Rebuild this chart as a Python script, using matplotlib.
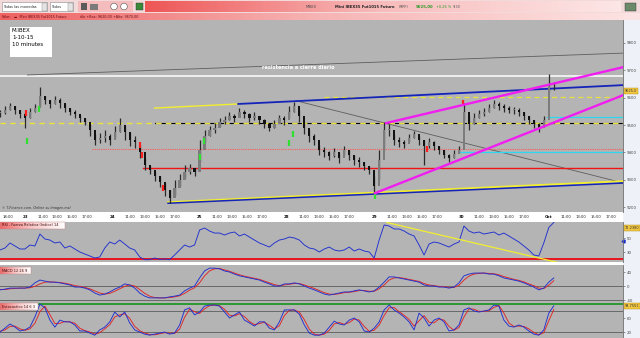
import numpy as np
import matplotlib
matplotlib.use("Agg")
import matplotlib.pyplot as plt
from matplotlib.patches import Rectangle, Circle
from matplotlib.colors import LinearSegmentedColormap
import matplotlib.transforms as mtransforms

W, H = 640, 338

# time axis: 10 minute bars, one session = 70 bars starting at 08:40
session_bars = 70
session_start_min = 8 * 60 + 40
sessions = ['23', '24', '25', '28', '29', '30', 'Oct']
hour_marks = [11, 13, 15, 17]
prev_session_hour = 18
first_bar = -20
last_bar = 479.5
bar_step = 4

# price, sampled every 4 bars
close = [9544, 9555, 9569, 9555, 9540, 9526, 9547, 9562, 9606, 9591,
         9577, 9591, 9580, 9562, 9547, 9540, 9526, 9511, 9482, 9445,
         9452, 9460, 9445, 9474, 9500, 9474, 9445, 9438, 9401, 9354,
         9335, 9313, 9291, 9262, 9233, 9269, 9299, 9328, 9343, 9328,
         9408, 9460, 9482, 9489, 9511, 9518, 9533, 9526, 9547, 9540,
         9526, 9533, 9518, 9504, 9489, 9504, 9526, 9518, 9547, 9569,
         9533, 9489, 9460, 9445, 9408, 9401, 9387, 9401, 9379, 9408,
         9390, 9372, 9365, 9350, 9335, 9277, 9372, 9482, 9482, 9445,
         9438, 9430, 9452, 9467, 9445, 9423, 9438, 9423, 9408, 9390,
         9379, 9394, 9408, 9547, 9504, 9526, 9540, 9547, 9562, 9577,
         9569, 9562, 9555, 9555, 9547, 9533, 9518, 9504, 9489, 9518,
         9642, 9642]
high = [9555, 9569, 9580, 9569, 9555, 9547, 9562, 9577, 9639, 9606,
        9591, 9606, 9599, 9577, 9562, 9555, 9537, 9526, 9504, 9467,
        9471, 9482, 9467, 9496, 9526, 9496, 9471, 9460, 9427, 9379,
        9350, 9328, 9313, 9288, 9262, 9299, 9321, 9354, 9357, 9343,
        9445, 9482, 9496, 9507, 9526, 9533, 9547, 9540, 9562, 9555,
        9544, 9547, 9533, 9522, 9504, 9518, 9537, 9533, 9569, 9584,
        9555, 9511, 9482, 9467, 9427, 9419, 9405, 9416, 9398, 9423,
        9408, 9390, 9383, 9365, 9350, 9313, 9408, 9511, 9504, 9467,
        9456, 9445, 9467, 9478, 9460, 9445, 9452, 9441, 9423, 9408,
        9394, 9408, 9423, 9580, 9533, 9544, 9555, 9562, 9577, 9591,
        9584, 9577, 9569, 9566, 9562, 9547, 9533, 9518, 9507, 9533,
        9686, 9657]
low = [9529, 9540, 9555, 9540, 9526, 9489, 9526, 9547, 9569, 9577,
       9562, 9577, 9562, 9547, 9537, 9526, 9511, 9500, 9460, 9427,
       9434, 9438, 9427, 9452, 9474, 9445, 9423, 9416, 9379, 9335,
       9321, 9295, 9273, 9240, 9214, 9244, 9277, 9306, 9321, 9313,
       9365, 9438, 9460, 9471, 9496, 9504, 9518, 9511, 9533, 9526,
       9511, 9518, 9504, 9489, 9478, 9489, 9511, 9500, 9526, 9547,
       9511, 9467, 9438, 9427, 9390, 9383, 9372, 9383, 9361, 9390,
       9372, 9354, 9346, 9335, 9321, 9251, 9299, 9408, 9460, 9427,
       9419, 9416, 9438, 9452, 9427, 9354, 9416, 9408, 9394, 9379,
       9365, 9379, 9398, 9518, 9482, 9504, 9526, 9533, 9547, 9562,
       9555, 9547, 9544, 9540, 9533, 9518, 9504, 9489, 9474, 9504,
       9620, 9628]

rsi = [32.9, 35.7, 42.9, 38.6, 34.3, 34.3, 40.0, 38.6, 55.7, 48.6,
       47.1, 42.9, 44.3, 35.7, 38.6, 34.3, 30.0, 27.1, 24.3, 21.4,
       22.9, 35.7, 44.3, 41.4, 47.1, 41.4, 35.7, 32.9, 22.9, 19.0,
       19.0, 21.4, 19.5, 20.0, 19.0, 25.7, 32.9, 40.0, 37.1, 40.0,
       61.4, 64.3, 60.0, 57.1, 57.1, 54.3, 57.1, 58.6, 52.9, 55.7,
       51.4, 47.1, 42.9, 40.0, 37.1, 42.9, 47.1, 48.6, 51.4, 50.0,
       47.1, 40.0, 35.7, 34.3, 30.0, 34.3, 37.1, 32.9, 31.4, 32.9,
       37.1, 31.4, 34.3, 31.4, 30.0, 21.4, 47.1, 68.6, 67.1, 62.9,
       62.9, 60.0, 55.7, 52.9, 40.0, 25.7, 41.4, 44.3, 42.9, 40.0,
       37.1, 41.4, 44.3, 67.1, 60.0, 57.1, 58.6, 55.7, 57.1, 58.6,
       54.3, 57.1, 52.9, 48.6, 44.3, 38.6, 32.9, 25.7, 24.3, 42.9,
       65.0, 72.2]
rsi_last = 72.2380

macd = [-11, -9, -6, -6, -6, -6, -3, 9, 17, 14,
        11, 11, 9, 6, 3, -3, -3, -6, -11, -20,
        -26, -23, -17, -9, -3, 6, 3, -6, -20, -29,
        -34, -34, -34, -34, -31, -29, -26, -14, -6, 0,
        23, 43, 51, 51, 49, 43, 40, 34, 29, 26,
        23, 20, 17, 11, 6, 0, 0, 6, 6, 9,
        6, 0, -6, -11, -17, -23, -26, -23, -20, -17,
        -17, -14, -11, -14, -17, -14, -3, 11, 26, 26,
        23, 20, 17, 14, 11, 3, 0, 0, -3, -3,
        -6, -3, 9, 29, 34, 37, 37, 37, 34, 34,
        29, 23, 20, 17, 14, 9, 3, -3, -11, -6,
        11, 23]
macd_signal = [-10, -10, -8, -7, -6, -6, -5, -1, 6, 11,
               12, 11, 10, 8, 5, 1, -1, -4, -8, -14,
               -20, -23, -21, -15, -8, -1, 3, 0, -10, -21,
               -29, -33, -34, -34, -33, -31, -28, -21, -12, -5,
               9, 29, 43, 49, 50, 46, 42, 37, 32, 28,
               25, 22, 19, 14, 9, 4, 1, 3, 5, 7,
               7, 3, -2, -7, -13, -19, -23, -24, -22, -19,
               -18, -16, -13, -13, -15, -15, -8, 3, 17, 23,
               24, 22, 19, 16, 13, 7, 3, 1, -1, -2,
               -4, -4, 2, 17, 28, 34, 36, 37, 36, 35,
               32, 27, 23, 19, 16, 12, 6, 1, -6, -7,
               2, 15]

stoch_k = [20, 31, 43, 34, 23, 26, 34, 63, 100, 89,
           54, 34, 54, 49, 49, 40, 23, 23, 17, 11,
           26, 34, 49, 77, 63, 77, 46, 26, 20, 14,
           11, 14, 17, 20, 14, 17, 40, 83, 89, 69,
           77, 94, 97, 97, 94, 77, 60, 69, 77, 54,
           46, 37, 49, 49, 31, 26, 49, 83, 83, 83,
           71, 40, 17, 11, 11, 17, 34, 51, 43, 40,
           54, 60, 49, 23, 20, 31, 49, 83, 97, 83,
           74, 63, 49, 26, 74, 60, 37, 54, 60, 49,
           23, 26, 40, 83, 89, 80, 77, 80, 83, 97,
           94, 54, 37, 34, 40, 34, 23, 14, 11, 26,
           74, 94.76]
stoch_d = [22, 26, 36, 37, 29, 25, 29, 45, 78, 94,
           70, 44, 45, 50, 49, 45, 31, 24, 20, 14,
           18, 29, 41, 63, 69, 72, 59, 36, 24, 17,
           13, 12, 15, 18, 17, 16, 28, 62, 85, 78,
           73, 86, 95, 97, 95, 85, 68, 66, 72, 64,
           50, 41, 44, 48, 39, 29, 38, 67, 82, 83,
           77, 55, 28, 14, 11, 14, 25, 43, 47, 42,
           47, 57, 54, 36, 22, 25, 40, 67, 89, 90,
           78, 68, 56, 37, 52, 67, 48, 46, 57, 54,
           36, 25, 33, 63, 86, 85, 79, 79, 81, 90,
           96, 74, 46, 36, 37, 36, 29, 19, 12, 18,
           52, 84]
stoch_last = 94.7551

# drawn studies on the price panel (bar, price)
grey_top = ([2, 480], [9683, 9763])
resistance = 9679
yellow_seg = ([104, 171], [9562, 9577])
blue_top = ([171, 480], [9577, 9646])
mid_level = 9507
mid_black_from = 104
upper_dash = ([240, 480], [9602, 9602])
red_dotted = ([54, 480], [9411, 9411])
red_solid = ([95, 480], [9343, 9343])
cyan_low = ([348, 480], [9401, 9401])
cyan_high = ([418.6, 480], [9529, 9529])
magenta_up = ([289.5, 480], [9507, 9712])
magenta_low = ([280.7, 480], [9251, 9610])
grey_diag = ([218, 480], [9588, 9288])
yellow_bottom = ([114.7, 480], [9218, 9295])
blue_bottom = ([114.7, 480], [9214, 9288])
red_marks = ([0.8, 92, 94, 111, 322, 351], [9544, 9427, 9390, 9269, 9412, 9580])
green_marks = ([1.6, 11, 140, 143.5, 212, 215, 281], [9441, 9558, 9383, 9441, 9434, 9467, 9240])
last_price = 9625.0

rsi_trend = ([290.3, 429], [72.1, 14.3])
rsi_level = 20

fig = plt.figure(figsize=(W / 100, H / 100), dpi=100)
fig.patch.set_facecolor('#eef2f8')


def px_axes(x0, y0, x1, y1, color, z=0):
    a = fig.add_axes([x0 / W, 1 - y1 / H, (x1 - x0) / W, (y1 - y0) / H], zorder=z)
    a.set_facecolor(color)
    return a


def blank(a):
    a.set_xticks([])
    a.set_yticks([])
    for s in a.spines.values():
        s.set_visible(False)


def style_panel(a, ylim, ticks):
    a.set_xlim(first_bar, last_bar)
    a.set_ylim(*ylim)
    for s in ['top', 'bottom', 'left']:
        a.spines[s].set_visible(False)
    a.spines['right'].set_color('#6a6a6a')
    a.spines['right'].set_linewidth(0.6)
    a.set_xticks([])
    a.yaxis.tick_right()
    a.set_yticks(ticks)
    a.set_yticklabels([f'{t:g}' for t in ticks])
    a.tick_params(axis='y', length=1.5, width=0.4, pad=1, labelsize=2.8,
                  colors='#444444')


def value_tag(a, y, text, coords='data'):
    if coords == 'data':
        tr = mtransforms.blended_transform_factory(a.transAxes, a.transData)
    else:
        tr = a.transAxes
    a.text(1.003, y, text, transform=tr, fontsize=2.5, va='center', ha='left',
           color='#333333', clip_on=False,
           bbox=dict(facecolor='#f1c640', edgecolor='#b08a10', lw=0.3, pad=0.5))


gray = '#b4b4b4'
blue = '#1f2fd0'
red = '#e02424'

# ---------------- price panel
ax = px_axes(0, 20, 623, 212, gray)
style_panel(ax, (9182, 9884), [9200, 9300, 9400, 9500, 9600, 9700, 9800])

ax.axhline(resistance, color='white', lw=1.1, zorder=2)
ax.plot(*grey_top, color='#5e5e5e', lw=0.6, zorder=2)
ax.plot(*grey_diag, color='#5e5e5e', lw=0.6, zorder=2)
ax.plot([mid_black_from, 480], [mid_level, mid_level], color='black', lw=0.8, zorder=2)
ax.axhline(mid_level, color='#e8e23a', lw=1.0, dashes=(4, 3), zorder=2)
ax.plot(*upper_dash, color='#e8e23a', lw=0.9, dashes=(4, 3), zorder=2)
ax.plot(*red_dotted, color='#ff5a5a', lw=0.8, dashes=(1, 1), zorder=2)
ax.plot(*red_solid, color='#f01414', lw=1.0, zorder=2)
ax.plot(*cyan_low, color='#2fd6f2', lw=0.9, zorder=2)
ax.plot(*cyan_high, color='#2fd6f2', lw=0.9, zorder=2)
ax.plot(*yellow_seg, color='#f2ee30', lw=1.0, zorder=2)
ax.plot(*blue_top, color='#1424b8', lw=1.3, zorder=2)
ax.plot(*yellow_bottom, color='#f2ee30', lw=1.3, zorder=2)
ax.plot(*blue_bottom, color='#1424b8', lw=1.1, zorder=2)

xs = first_bar + bar_step * np.arange(len(close))
opens = [close[0]] + close[:-1]
ax.vlines(xs, low, high, color='#2a2a2a', lw=0.9, zorder=3)
body_lo = np.minimum(opens, close)
body_h = np.maximum(np.abs(np.subtract(close, opens)), 2)
body_col = ['#7c7c7c' if c >= o else '#111111' for o, c in zip(opens, close)]
ax.bar(xs, body_h, bottom=body_lo, width=1.8, color=body_col, lw=0, zorder=3)

ax.plot(*red_marks, ls='none', marker='|', ms=4, mew=1.6, color='#ff2020', zorder=4)
ax.plot(*green_marks, ls='none', marker='|', ms=4, mew=1.6, color='#30e030', zorder=4)

ax.plot(*magenta_up, color='#f01ef0', lw=1.7, zorder=5)
ax.plot(*magenta_low, color='#f01ef0', lw=1.7, zorder=5)

ax.text(219, 9712, 'resistencia a cierre diario', color='white', fontsize=3.6,
        weight='bold', ha='center', va='center', zorder=6)
value_tag(ax, last_price, f'{last_price:.1f}')
ax.text(0.004, 0.008, '© T-Finance.com. Online su Imagen.mx/', transform=ax.transAxes,
        fontsize=2.4, color='#333333', style='italic', va='bottom')

# ---------------- time strip
tax = px_axes(0, 212, 623, 222, 'white')
blank(tax)
tax.set_xlim(first_bar, last_bar)
tax.set_ylim(0, 1)
tax.text(-session_bars + (prev_session_hour * 60 - session_start_min) / 10, 0.5,
         f'{prev_session_hour}:00', fontsize=2.7, ha='center', va='center', color='#222222')
for i, s in enumerate(sessions):
    b0 = i * session_bars
    tax.text(b0, 0.5, s, fontsize=2.9, weight='bold', ha='center', va='center', color='#111111')
    for h in hour_marks:
        tax.text(b0 + (h * 60 - session_start_min) / 10, 0.5, f'{h}:00', fontsize=2.7,
                 ha='center', va='center', color='#222222')

# ---------------- RSI
rax = px_axes(0, 222, 623, 262, gray)
style_panel(rax, (15.7, 72.9), [30, 50])
rax.axhline(rsi_level, color='#e8141e', lw=1.4)
rax.plot(xs, rsi, color=blue, lw=0.65)
rax.plot(*rsi_trend, color='#f2ee30', lw=0.9)
value_tag(rax, 0.85, f'{rsi_last:.4f}', coords='axes')
rax.plot([last_bar], [45.7], marker='<', ms=2.2, color=blue, clip_on=False)

gap = px_axes(0, 262, 623, 265, 'white')
blank(gap)

# ---------------- MACD
mx = px_axes(0, 265, 623, 302, gray)
style_panel(mx, (-45.7, 60), [-40, 0, 40])
for lvl in [0, -40]:
    mx.axhline(lvl, color='#5c5c5c', lw=0.6)
mx.plot(xs, macd_signal, color=red, lw=0.65)
mx.plot(xs, macd, color=blue, lw=0.65)

# ---------------- Stochastic
sx = px_axes(0, 302, 623, 338, gray)
style_panel(sx, (2.9, 105.7), [20, 60])
for lvl in [80, 20]:
    sx.axhline(lvl, color='#5c5c5c', lw=0.6)
sx.axhline(100, color='#2c9a32', lw=1.4)
sx.plot(xs, stoch_d, color=red, lw=0.65)
sx.plot(xs, stoch_k, color=blue, lw=0.65)
value_tag(sx, stoch_last, f'{stoch_last:.4f}')

# ---------------- window chrome (pixel coordinates)
top = px_axes(0, 0, W, 20, '#f3dada', z=5)
blank(top)
top.set_xlim(0, W)
top.set_ylim(20, 0)
grad = np.linspace(0, 1, 256)[None, :]
top.imshow(grad, extent=(145, 621, 12, 1), aspect='auto',
           cmap=LinearSegmentedColormap.from_list('r1', ['#ee5656', '#f8bcbc', '#fde6e6']))
top.imshow(grad, extent=(0, W, 20, 13), aspect='auto',
           cmap=LinearSegmentedColormap.from_list('r2', ['#ee6262', '#f7b4b4', '#fde4e4']))
top.add_patch(Rectangle((78, 1), 55, 11, fc='#f4bcbc', ec='none'))
top.add_patch(Rectangle((2, 2), 45, 9, fc='white', ec='#8a8a8a', lw=0.4))
top.add_patch(Rectangle((41.5, 2.5), 5, 8, fc='#e4e4e4', ec='#8a8a8a', lw=0.3))
top.text(3.5, 6.5, 'Todas las monedas', fontsize=2.5, va='center', color='#222222')
top.add_patch(Rectangle((50, 2), 23, 9, fc='white', ec='#8a8a8a', lw=0.4))
top.add_patch(Rectangle((67.5, 2.5), 5, 8, fc='#e4e4e4', ec='#8a8a8a', lw=0.3))
top.text(51.5, 6.5, 'Todos', fontsize=2.5, va='center', color='#222222')
top.add_patch(Rectangle((81, 3), 6, 7, fc='#5a5a5a', ec='none'))
top.add_patch(Rectangle((90, 3.5), 8, 6, fc='#7a7a7a', ec='none'))
for cx in (114, 124):
    top.add_patch(Circle((cx, 6.5), 3.3, fc='white', ec='#555555', lw=0.4))
top.add_patch(Rectangle((136, 3), 7, 7, fc='#3a8a3a', ec='#333333', lw=0.3))
top.add_patch(Rectangle((625, 3), 11, 8, fc='#6a8a6a', ec='#333333', lw=0.3))
top.text(306, 6.5, 'MIBEX', fontsize=2.5, va='center', color='#444444')
top.text(335, 6.5, 'Mini IBEX35 Fut1015 Futuro', fontsize=2.7, va='center',
         weight='bold', color='#222222')
top.text(399, 6.5, '(MFF)', fontsize=2.5, va='center', color='#444444')
top.text(416, 6.5, '9625,00', fontsize=2.8, va='center', weight='bold', color='#2a9a2a')
top.text(436, 6.5, '+0,26 %', fontsize=2.5, va='center', color='#2a9a2a')
top.text(453, 6.5, '9:30', fontsize=2.5, va='center', color='#555555')
top.text(2, 16.5, 'Valor:', fontsize=2.4, va='center', color='#6a1010')
top.text(14, 16.5, '▬  Mini IBEX35 Fut1015 Futuro', fontsize=2.4, va='center', color='#6a1010')
top.text(80, 16.5, 'día +Bax: 9620,00 +Alto: 9670,00', fontsize=2.4, va='center', color='#6a1010')

ov = fig.add_axes([0, 0, 1, 1], zorder=8)
ov.set_xlim(0, W)
ov.set_ylim(H, 0)
ov.axis('off')
ov.add_patch(Rectangle((10, 27), 42, 30, fc='white', ec='none'))
for yy, t in zip((30.5, 37.5, 44.5), ('M.IBEX', '1-10-15', '10 minutes')):
    ov.text(12, yy, t, fontsize=4.0, va='center', color='black')

pink = LinearSegmentedColormap.from_list('tb', ['#ee6a6a', '#f8c8c8', '#ffffff'])
for (x0, y0, x1, y1), t in [((0, 222, 65, 229), 'RSI - Fuerza Relativa (Indice) 14'),
                            ((0, 267, 31, 274), 'MACD 12 26 9'),
                            ((0, 303, 38, 310), 'Estocastico 14 6 3')]:
    ov.imshow(grad, extent=(x0, x1, y1, y0), aspect='auto', cmap=pink)
    ov.add_patch(Rectangle((x0, y0), x1 - x0, y1 - y0, fc='none', ec='#c08080', lw=0.3))
    ov.text(x0 + 1.5, (y0 + y1) / 2, t, fontsize=2.5, va='center', color='#3a0a0a')
ov.set_xlim(0, W)
ov.set_ylim(H, 0)

fig.savefig('out.png', dpi=100)
